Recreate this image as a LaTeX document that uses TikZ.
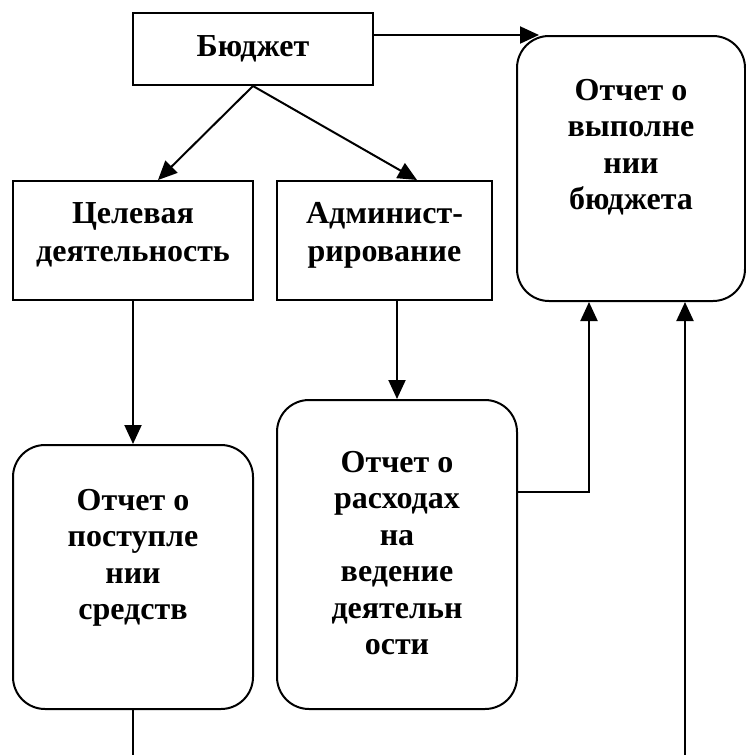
\documentclass[tikz,border=0pt]{standalone}
\usepackage{fontspec}
\setmainfont{Liberation Serif}
\usetikzlibrary{arrows.meta}
\begin{document}
\begin{tikzpicture}[x=1pt,y=-1pt,
  box/.style={draw, line width=2pt, inner sep=0pt},
  roundbox/.style={box, rounded corners=32pt},
  label/.style={inner sep=0pt, align=center, font=\bfseries\fontsize{32}{36.5}\selectfont},
  sqlabel/.style={label, font=\bfseries\fontsize{32}{38}\selectfont},
  arr/.style={line width=2pt, -{Triangle[length=19pt,width=17pt]}},
  link/.style={line width=2pt}]
\useasboundingbox (0,0) rectangle (746,755);

% boxes
\node[box, minimum width=240pt, minimum height=72pt] (budget) at (253,49) {};
\node[box, minimum width=240pt, minimum height=119pt] (target) at (133,240.5) {};
\node[box, minimum width=215pt, minimum height=119pt] (admin) at (384.5,240.5) {};
\node[roundbox, minimum width=228pt, minimum height=265pt] (report) at (631,168.5) {};
\node[roundbox, minimum width=240pt, minimum height=264pt] (income) at (133,577) {};
\node[roundbox, minimum width=240pt, minimum height=309pt] (expense) at (397,554.5) {};

% texts
\node[label] (budget-t) at (253,49) {Бюджет};
\node[sqlabel, anchor=north] (target-t) at (133,202) {Целевая\\деятельность};
\node[sqlabel, anchor=north] (admin-t) at (384.5,202) {Админист-\\рирование};
\node[label, anchor=north] (report-t) at (631,79) {Отчет о\\выполне\\нии\\бюджета};
\node[label, anchor=north] (income-t) at (133,489) {Отчет о\\поступле\\нии\\средств};
\node[label, anchor=north] (expense-t) at (397,451) {Отчет о\\расходах\\на\\ведение\\деятельн\\ости};

% free ends at the lower edge
\coordinate (out-l) at (133,755);
\coordinate (in-r) at (685,755);

% connectors
\draw[arr] (budget.east |- report.north) -- ([xshift=23pt]report.north west);
\draw[arr] (budget.south) -- ([xshift=25pt]target.north);
\draw[arr] (budget.south) -- ([xshift=32.5pt]admin.north);
\draw[arr] (target.south) -- (income.north);
\draw[arr] (expense.north |- admin.south) -- (expense.north);
\draw[arr] ([yshift=62.5pt]expense.east) -| ([xshift=-42pt]report.south);
\draw[link] (income.south) -- (out-l);
\draw[arr] (in-r) -- (in-r |- report.south);
\end{tikzpicture}
\end{document}
